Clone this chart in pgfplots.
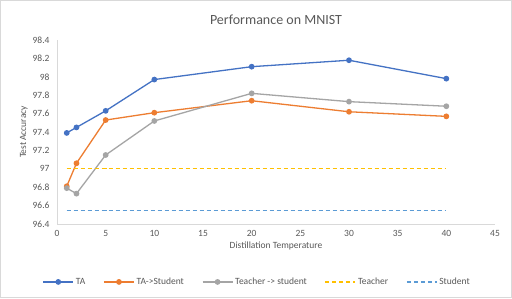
\documentclass[border=0pt]{standalone}
\usepackage{pgfplots}
\pgfplotsset{compat=1.18}
\usepackage{fontspec}
\setmainfont{Carlito}
\definecolor{cTA}{HTML}{4472C4}
\definecolor{cTAS}{HTML}{ED7D31}
\definecolor{cTS}{HTML}{A5A5A5}
\definecolor{cT}{HTML}{FFC000}
\definecolor{cS}{HTML}{5B9BD5}
\definecolor{txt}{HTML}{595959}
\definecolor{axl}{HTML}{D9D9D9}
\begin{document}
\begin{tikzpicture}[x=1pt,y=1pt]
\draw[draw=axl,fill=white,line width=1pt] (0.5,0.5) rectangle (511.5,297.5);
\begin{axis}[
  at={(57pt,74pt)}, anchor=south west,
  scale only axis, width=438pt, height=184pt,
  xmin=0, xmax=45, ymin=96.4, ymax=98.4,
  xtick={0,5,...,45}, ytick={96.4,96.6,...,98.41},
  yticklabel style={/pgf/number format/fixed,/pgf/number format/precision=1},
  /pgf/number format/assume math mode=true,
  axis x line*=bottom, axis y line*=left,
  axis line style={draw=axl, line width=0.8pt},
  x axis line style={-}, y axis line style={-},
  major tick length=0pt,
  tick label style={font=\fontsize{9.5}{10}\selectfont, text=txt},
  xticklabel style={yshift=-3pt},
  yticklabel style={xshift=-4pt},
  xlabel={Distillation Temperature}, ylabel={Test Accuracy},
  label style={font=\fontsize{9.5}{10}\selectfont, text=txt},
  xlabel style={yshift=2pt},
  ylabel style={yshift=-2pt},
  title={Performance on MNIST},
  title style={font=\fontsize{14}{16}\selectfont, text=txt, yshift=6pt},
  legend columns=5,
  legend style={at={(0.457,-0.27)}, anchor=north, draw=none, fill=none,
    font=\fontsize{9.5}{10}\selectfont, text=txt,
    /tikz/every even column/.append style={column sep=16pt}},
  legend image code/.code={\draw[#1] (0pt,0pt) -- (30pt,0pt); \path[#1,only marks] plot coordinates {(15pt,0pt)};},
  every axis plot/.append style={line width=1.3pt},
]
\addplot[color=cTA, mark=*, mark size=2.2pt] coordinates {
(1,97.39) (2,97.45) (5,97.63) (10,97.97) (20,98.11) (30,98.18) (40,97.98)};
\addlegendentry{TA}
\addplot[color=cTAS, mark=*, mark size=2.2pt] coordinates {
(1,96.81) (2,97.06) (5,97.53) (10,97.61) (20,97.74) (30,97.62) (40,97.57)};
\addlegendentry{TA->Student}
\addplot[color=cTS, mark=*, mark size=2.2pt] coordinates {
(1,96.79) (2,96.73) (5,97.15) (10,97.52) (20,97.82) (30,97.73) (40,97.68)};
\addlegendentry{Teacher -> student}
\addplot[color=cT, line width=1.2pt, dash pattern=on 4pt off 3pt] coordinates {
(1,97.0) (2,97.0) (5,97.0) (10,97.0) (20,97.0) (30,97.0) (40,97.0)};
\addlegendentry{Teacher}
\addplot[color=cS, line width=1.2pt, dash pattern=on 4pt off 3pt] coordinates {
(1,96.55) (2,96.55) (5,96.55) (10,96.55) (20,96.55) (30,96.55) (40,96.55)};
\addlegendentry{Student}
\end{axis}
\end{tikzpicture}
\end{document}
